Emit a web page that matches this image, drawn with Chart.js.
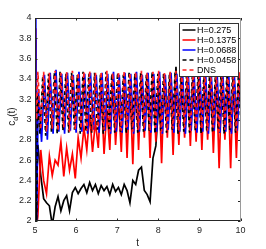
<!DOCTYPE html>
<html><head><meta charset="utf-8">
<script src="https://cdn.jsdelivr.net/npm/chart.js@4"></script>
<style>html,body{margin:0;padding:0;background:#fff;overflow:hidden}canvas{display:block}</style>
</head><body>
<canvas id="c" width="266" height="249"></canvas>
<script>
// ---- data ----
const times = [5.00,5.02,5.04,5.07,5.14,5.21,5.28,5.35,5.42,5.49,5.56,5.63,5.70,5.77,5.84,5.91,5.98,
  6.05,6.12,6.19,6.26,6.33,6.40,6.47,6.54,6.61,6.68,6.75,6.82,6.89,6.96,
  7.03,7.10,7.17,7.24,7.31,7.38,7.45,7.52,7.59,7.66,7.73,7.80,7.87,7.94,
  8.01,8.08,8.15,8.22,8.29,8.36,8.43,8.50,8.57,8.64,8.71,8.78,8.85,8.92,8.99,
  9.06,9.13,9.20,9.27,9.34,9.41,9.48,9.55,9.62,9.69,9.76,9.83,9.90,9.97,10.04];
const timesBlue = [5.00,5.02,5.04,5.08,5.16,5.23,5.30,5.37,5.44,5.51,5.58,5.65,5.72,5.79,5.86,5.93,6.00,
  6.07,6.14,6.21,6.28,6.35,6.42,6.49,6.56,6.63,6.70,6.77,6.84,6.91,6.98,
  7.05,7.12,7.19,7.26,7.33,7.40,7.47,7.54,7.61,7.68,7.75,7.82,7.89,7.96,
  8.03,8.10,8.17,8.24,8.31,8.38,8.45,8.52,8.59,8.66,8.73,8.80,8.87,8.94,9.01,
  9.08,9.15,9.22,9.29,9.36,9.43,9.50,9.57,9.64,9.71,9.78,9.85,9.92,9.99,10.06];
const timesDashed = [5.00,5.02,5.04,5.06,5.12,5.19,5.26,5.33,5.40,5.47,5.54,5.61,5.68,5.75,5.82,5.89,5.96,
  6.03,6.10,6.17,6.24,6.31,6.38,6.45,6.52,6.59,6.66,6.73,6.80,6.87,6.94,
  7.01,7.08,7.15,7.22,7.29,7.36,7.43,7.50,7.57,7.64,7.71,7.78,7.85,7.92,
  7.99,8.06,8.13,8.20,8.27,8.34,8.41,8.48,8.55,8.62,8.69,8.76,8.83,8.90,8.97,
  9.04,9.11,9.18,9.25,9.32,9.39,9.46,9.53,9.60,9.67,9.74,9.81,9.88,9.95,10.02];
const seriesLabels = ['H=0.275','H=0.1375','H=0.0688','H=0.0458','DNS'];
const h0275 = [3.80,3.00,2.60,2.75,2.45,2.22,2.18,2.15,1.96,2.14,2.24,2.10,2.20,2.25,2.10,2.28,2.33,
  2.27,2.32,2.36,2.28,2.38,2.30,2.36,2.27,2.35,2.30,2.34,2.26,2.36,2.29,
  2.33,2.26,2.36,2.30,2.18,2.40,2.36,2.50,2.53,2.30,2.26,2.19,2.62,2.74,
  3.15,2.90,3.42,2.95,3.46,2.92,3.52,2.88,3.45,2.93,3.44,2.90,3.47,2.86,3.45,
  2.92,3.44,2.88,3.46,2.91,3.45,2.87,3.47,2.90,3.44,2.88,3.46,2.92,3.45,2.89];
const h01375 = [3.90,2.90,1.95,2.05,2.70,2.40,2.27,2.64,2.45,2.60,2.55,2.78,2.44,2.72,2.50,2.66,2.42,
  2.82,2.62,2.92,2.70,3.05,2.68,2.98,2.72,3.30,2.66,3.10,2.70,3.42,2.75,
  3.20,2.68,3.44,2.62,3.38,2.56,3.46,2.70,3.45,2.82,3.46,2.62,3.44,2.78,
  3.45,2.57,3.45,2.82,3.46,2.65,3.44,2.75,3.46,2.82,3.45,2.74,3.46,2.78,3.44,
  2.70,3.46,2.80,3.45,2.67,3.46,2.52,3.44,2.80,3.45,2.52,3.46,2.62,3.45,2.80];
const h00688 = [4.00,3.00,1.95,3.30,2.78,3.44,2.80,3.46,2.86,3.49,2.88,3.45,2.86,3.46,2.89,3.44,2.87,
  3.47,2.88,3.45,2.86,3.46,2.90,3.44,2.87,3.46,2.89,3.45,2.86,3.47,2.88,
  3.44,2.87,3.46,2.90,3.45,2.86,3.47,2.88,3.44,2.89,3.46,2.87,3.45,2.88,
  3.47,2.86,3.44,2.90,3.46,2.87,3.45,2.88,3.47,2.86,3.44,2.89,3.46,2.87,3.45,
  2.88,3.47,2.86,3.44,2.89,3.46,2.87,3.45,2.88,3.47,2.86,3.44,2.89,3.46,2.88];
const h00458 = [3.40,2.30,1.95,3.25,2.86,3.43,2.84,3.45,2.88,3.46,2.86,3.47,2.89,3.45,2.87,3.46,2.90,
  3.44,2.86,3.47,2.88,3.45,2.87,3.46,2.90,3.44,2.86,3.47,2.89,3.45,2.87,
  3.46,2.88,3.44,2.86,3.47,2.90,3.45,2.87,3.46,2.88,3.44,2.89,3.47,2.86,
  3.45,2.89,3.46,2.87,3.44,2.90,3.47,2.86,3.45,2.88,3.46,2.87,3.44,2.89,3.47,
  2.86,3.45,2.88,3.46,2.87,3.44,2.90,3.47,2.86,3.45,2.89,3.46,2.87,3.44,2.88];
const dns = [3.46,3.30,3.00,3.47,2.90,3.47,2.88,3.46,2.91,3.48,2.89,3.46,2.92,3.47,2.88,3.48,2.90,
  3.46,2.91,3.47,2.89,3.48,2.88,3.46,2.92,3.47,2.90,3.48,2.88,3.46,2.91,
  3.47,2.89,3.48,2.92,3.46,2.88,3.47,2.90,3.48,2.91,3.46,2.89,3.47,2.92,
  3.48,2.88,3.46,2.90,3.47,2.91,3.48,2.89,3.46,2.92,3.47,2.88,3.48,2.90,3.46,
  2.91,3.47,2.89,3.48,2.92,3.46,2.88,3.47,2.90,3.48,2.91,3.46,2.89,3.47,2.90];
const xTickValues = [5,6,7,8,9,10];
const yTickValues = [2,2.2,2.4,2.6,2.8,3,3.2,3.4,3.6,3.8,4];
const xTitle = 't';

// ---- chart ----
const FONT = '"Liberation Sans", Arial, sans-serif';
const pts = (tt, vals) => tt.map((t, i) => ({x: t, y: vals[i]}));
const seriesValues = [h0275, h01375, h00688, h00458, dns];
const seriesTimes = [times, times, timesBlue, timesDashed, times];
const styles = [
  {color: '#000000', dash: [], order: 4},
  {color: '#ff0000', dash: [], order: 3},
  {color: '#0000ff', dash: [], order: 2},
  {color: '#000000', dash: [4, 3], order: 1},
  {color: '#ff2020', dash: [4, 3], order: 0}
];
const datasets = seriesValues.map((v, i) => ({
  label: seriesLabels[i], data: pts(seriesTimes[i], v), borderColor: styles[i].color,
  borderDash: styles[i].dash, borderWidth: 1.7, pointRadius: 0, tension: 0,
  fill: false, order: styles[i].order
}));

const decor = {
  id: 'decor',
  afterDatasetsDraw(chart) {
    const {ctx, chartArea: a, scales: {x, y}} = chart;
    ctx.save();
    ctx.lineWidth = 1;
    ctx.strokeStyle = '#262626';
    ctx.beginPath();
    x.ticks.forEach(t => {
      const px = Math.round(x.getPixelForValue(t.value)) + 0.5;
      ctx.moveTo(px, a.bottom); ctx.lineTo(px, a.bottom - 2.5);
      ctx.moveTo(px, a.top); ctx.lineTo(px, a.top + 2.5);
    });
    y.ticks.forEach(t => {
      const py = Math.round(y.getPixelForValue(t.value)) + 0.5;
      ctx.moveTo(a.left, py); ctx.lineTo(a.left + 2.5, py);
      ctx.moveTo(a.right, py); ctx.lineTo(a.right - 2.5, py);
    });
    ctx.stroke();
    const L = Math.round(a.left) + 0.5, R = Math.round(a.right) - 0.5;
    const T = Math.round(a.top) + 0.5, B = Math.round(a.bottom) - 0.5;
    ctx.beginPath();
    ctx.moveTo(R, T); ctx.lineTo(L, T); ctx.lineTo(L, B); ctx.lineTo(R, B);
    ctx.stroke();
    ctx.strokeStyle = '#9a9a9a';
    ctx.beginPath(); ctx.moveTo(R, T); ctx.lineTo(R, B); ctx.stroke();

    // legend box (inside plot, top right)
    const bw = 59, bh = 53;
    const bx = Math.round(a.right - 3 - bw) + 0.5, by = Math.round(a.top + 5) + 0.5;
    ctx.fillStyle = '#ffffff';
    ctx.fillRect(bx, by, bw, bh);
    ctx.strokeStyle = '#333333';
    ctx.lineWidth = 1;
    ctx.strokeRect(bx, by, bw, bh);
    ctx.font = '9px ' + FONT;
    ctx.textBaseline = 'middle';
    ctx.textAlign = 'left';
    chart.data.datasets.forEach((ds, i) => {
      const cy = by + 6.5 + i * 10;
      ctx.strokeStyle = ds.borderColor;
      ctx.lineWidth = 1.5;
      ctx.setLineDash(ds.borderDash);
      ctx.beginPath(); ctx.moveTo(bx + 3, cy); ctx.lineTo(bx + 16, cy); ctx.stroke();
      ctx.setLineDash([]);
      ctx.fillStyle = '#000000';
      ctx.fillText(ds.label, bx + 17.5, cy + 0.5);
    });

    // axis titles
    ctx.fillStyle = '#262626';
    ctx.font = '10px ' + FONT;
    ctx.textAlign = 'center';
    ctx.textBaseline = 'alphabetic';
    ctx.fillText(xTitle, (a.left + a.right) / 2, 246);

    ctx.translate(15, (a.top + a.bottom) / 2 - 3);
    ctx.rotate(-Math.PI / 2);
    ctx.textAlign = 'left';
    const big = '10px ' + FONT, small = '7px ' + FONT;
    ctx.font = big; const wc = ctx.measureText('c').width;
    ctx.font = small; const wd = ctx.measureText('d').width;
    ctx.font = big; const wt = ctx.measureText('(t)').width;
    let sx = -(wc + wd + wt) / 2;
    ctx.font = big; ctx.fillText('c', sx, 0); sx += wc;
    ctx.font = small; ctx.fillText('d', sx, 2.5); sx += wd;
    ctx.font = big; ctx.fillText('(t)', sx, 0);
    ctx.restore();
  }
};

new Chart(document.getElementById('c'), {
  type: 'line',
  data: {datasets},
  options: {
    responsive: false, animation: false, devicePixelRatio: 1,
    layout: {padding: {left: 0, top: 18, right: 25.5, bottom: 0}},
    plugins: {legend: {display: false}, tooltip: {enabled: false}},
    scales: {
      x: {
        type: 'linear', min: 5, max: 10,
        afterBuildTicks: s => { s.ticks = xTickValues.map(v => ({value: v})); },
        afterFit: s => { s.height = 28; },
        grid: {display: false, drawTicks: false}, border: {display: false},
        ticks: {padding: 4, color: '#262626', font: {size: 9, family: FONT}, maxRotation: 0,
          callback: v => String(v)}
      },
      y: {
        type: 'linear', min: 2, max: 4,
        afterBuildTicks: s => { s.ticks = yTickValues.map(v => ({value: v})); },
        afterFit: s => { s.width = 35; },
        grid: {display: false, drawTicks: false}, border: {display: false},
        ticks: {padding: 3.5, color: '#262626', font: {size: 9, family: FONT},
          callback: v => String(Math.round(v * 10) / 10)}
      }
    }
  },
  plugins: [decor]
});
</script>
</body></html>
